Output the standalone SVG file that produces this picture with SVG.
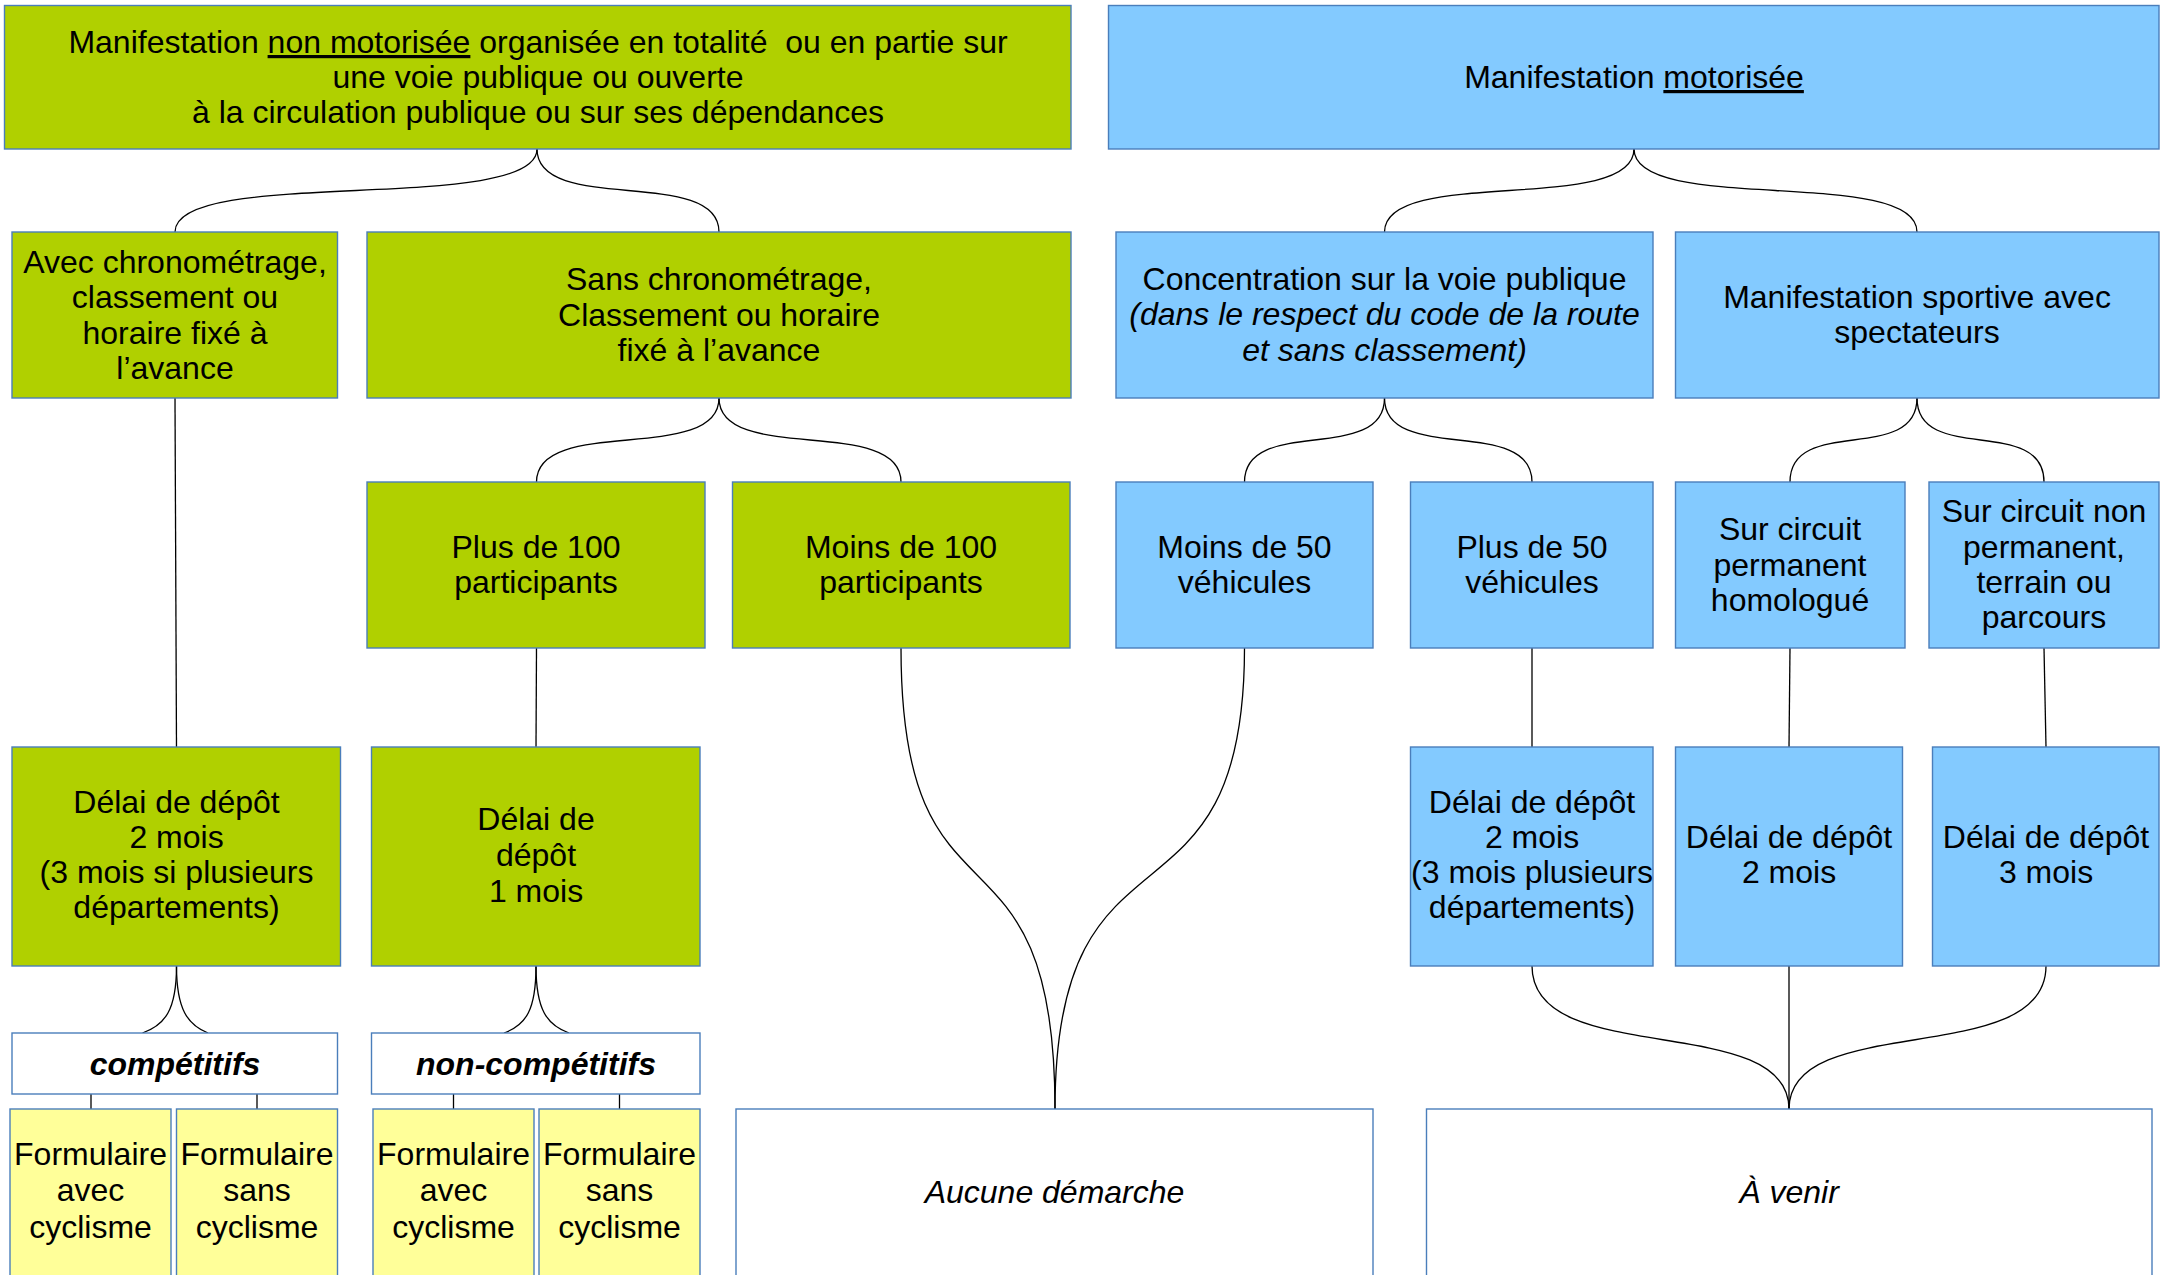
<svg xmlns="http://www.w3.org/2000/svg" width="2163" height="1275" viewBox="0 0 2163 1275">
<style>
rect{stroke:#4a7ebb;stroke-width:1.4}
.g{fill:#b0d000}
.b{fill:#83caff}
.y{fill:#ffff99}
.w{fill:#ffffff}
text{font-family:"Liberation Sans",Arial,sans-serif;font-size:32px;text-anchor:middle;fill:#000}
.i{font-style:italic}
.bi{font-style:italic;font-weight:bold}
#connectors path{fill:none;stroke:#000;stroke-width:1.3}
</style>
<g id="connectors">
<path d="M537,149 C537,215 175,166 175,232"/>
<path d="M537,149 C537,215 719,166 719,232"/>
<path d="M1634,149 C1634,215 1384.5,166 1384.5,232"/>
<path d="M1634,149 C1634,215 1917,166 1917,232"/>
<path d="M719,398 C719,465 536.5,415 536.5,482"/>
<path d="M719,398 C719,465 901,415 901,482"/>
<path d="M1384.5,398 C1384.5,465 1244.5,415 1244.5,482"/>
<path d="M1384.5,398 C1384.5,465 1532,415 1532,482"/>
<path d="M1917,398 C1917,465 1790,415 1790,482"/>
<path d="M1917,398 C1917,465 2044,415 2044,482"/>
<path d="M175,398 L176.5,747"/>
<path d="M536.5,648 L536,747"/>
<path d="M1532,648 L1532,747"/>
<path d="M1790,648 L1789,747"/>
<path d="M2044,648 L2046,747"/>
<path d="M901,648 C901,950 1055,800 1055,1109"/>
<path d="M1244.5,648 C1244.5,950 1055,800 1055,1109"/>
<path d="M1532,966 C1532,1070 1789,1010 1789,1109"/>
<path d="M1789,966 L1789,1109"/>
<path d="M2046,966 C2046,1070 1789,1010 1789,1109"/>
<path d="M176.5,966 C176.5,1010 165,1025 142.5,1033"/>
<path d="M176.5,966 C176.5,1010 188,1025 208,1033"/>
<path d="M536,966 C536,1010 526,1025 504,1033"/>
<path d="M536,966 C536,1010 547,1025 569,1033"/>
<path d="M91,1094 L91,1109"/>
<path d="M257,1094 L257,1109"/>
<path d="M453.5,1094 L453.5,1109"/>
<path d="M619.5,1094 L619.5,1109"/>
</g>
<g id="n-nonmotor">
<rect class="g" x="4.5" y="5.5" width="1066.5" height="143.5"/>
<text x="538" y="53" xml:space="preserve">Manifestation <tspan text-decoration="underline">non motorisée</tspan> organisée en totalité  ou en partie sur</text>
<text x="538" y="88">une voie publique ou ouverte</text>
<text x="538" y="123">à la circulation publique ou sur ses dépendances</text>
</g>
<g id="n-motor">
<rect class="b" x="1108.5" y="5.5" width="1050.5" height="143.5"/>
<text x="1634" y="88">Manifestation <tspan text-decoration="underline">motorisée</tspan></text>
</g>
<g id="n-avec">
<rect class="g" x="12" y="232" width="325.5" height="166"/>
<text x="175" y="273">Avec chronométrage,</text>
<text x="175" y="308">classement ou</text>
<text x="175" y="344">horaire fixé à</text>
<text x="175" y="379">l’avance</text>
</g>
<g id="n-sans">
<rect class="g" x="367" y="232" width="704" height="166"/>
<text x="719" y="290">Sans chronométrage,</text>
<text x="719" y="326">Classement ou horaire</text>
<text x="719" y="361">fixé à l’avance</text>
</g>
<g id="n-concentration">
<rect class="b" x="1116" y="232" width="537" height="166"/>
<text x="1384.5" y="290">Concentration sur la voie publique</text>
<text x="1384.5" y="325" class="i">(dans le respect du code de la route</text>
<text x="1384.5" y="361" class="i">et sans classement)</text>
</g>
<g id="n-sportive">
<rect class="b" x="1675.5" y="232" width="483.5" height="166"/>
<text x="1917" y="308">Manifestation sportive avec</text>
<text x="1917" y="343">spectateurs</text>
</g>
<g id="n-plus100">
<rect class="g" x="367" y="482" width="338" height="166"/>
<text x="536" y="558">Plus de 100</text>
<text x="536" y="593">participants</text>
</g>
<g id="n-moins100">
<rect class="g" x="732.5" y="482" width="337.5" height="166"/>
<text x="901" y="558">Moins de 100</text>
<text x="901" y="593">participants</text>
</g>
<g id="n-moins50">
<rect class="b" x="1116" y="482" width="257" height="166"/>
<text x="1244.5" y="558">Moins de 50</text>
<text x="1244.5" y="593">véhicules</text>
</g>
<g id="n-plus50">
<rect class="b" x="1410.5" y="482" width="242.5" height="166"/>
<text x="1532" y="558">Plus de 50</text>
<text x="1532" y="593">véhicules</text>
</g>
<g id="n-perm">
<rect class="b" x="1675.5" y="482" width="229.5" height="166"/>
<text x="1790" y="540">Sur circuit</text>
<text x="1790" y="576">permanent</text>
<text x="1790" y="611">homologué</text>
</g>
<g id="n-nonperm">
<rect class="b" x="1929" y="482" width="230" height="166"/>
<text x="2044" y="522">Sur circuit non</text>
<text x="2044" y="558">permanent,</text>
<text x="2044" y="593">terrain ou</text>
<text x="2044" y="628">parcours</text>
</g>
<g id="n-delai-g2">
<rect class="g" x="12" y="747" width="328.5" height="219"/>
<text x="176.5" y="813">Délai de dépôt</text>
<text x="176.5" y="848">2 mois</text>
<text x="176.5" y="883">(3 mois si plusieurs</text>
<text x="176.5" y="918">départements)</text>
</g>
<g id="n-delai-g1">
<rect class="g" x="371.5" y="747" width="328.5" height="219"/>
<text x="536" y="830">Délai de</text>
<text x="536" y="866">dépôt</text>
<text x="536" y="902">1 mois</text>
</g>
<g id="n-delai-b2p">
<rect class="b" x="1410.5" y="747" width="242.5" height="219"/>
<text x="1532" y="813">Délai de dépôt</text>
<text x="1532" y="848">2 mois</text>
<text x="1532" y="883">(3 mois plusieurs</text>
<text x="1532" y="918">départements)</text>
</g>
<g id="n-delai-b2">
<rect class="b" x="1675.5" y="747" width="227" height="219"/>
<text x="1789" y="848">Délai de dépôt</text>
<text x="1789" y="883">2 mois</text>
</g>
<g id="n-delai-b3">
<rect class="b" x="1932.5" y="747" width="226.5" height="219"/>
<text x="2046" y="848">Délai de dépôt</text>
<text x="2046" y="883">3 mois</text>
</g>
<g id="n-competitifs">
<rect class="w" x="12" y="1033" width="325.5" height="61"/>
<text x="175" y="1075" class="bi">compétitifs</text>
</g>
<g id="n-noncompetitifs">
<rect class="w" x="371.5" y="1033" width="328.5" height="61"/>
<text x="536" y="1075" class="bi">non-compétitifs</text>
</g>
<g id="n-f1">
<rect class="y" x="10" y="1109" width="161" height="190"/>
<text x="90.5" y="1165">Formulaire</text>
<text x="90.5" y="1201">avec</text>
<text x="90.5" y="1238">cyclisme</text>
</g>
<g id="n-f2">
<rect class="y" x="176.5" y="1109" width="161" height="190"/>
<text x="257" y="1165">Formulaire</text>
<text x="257" y="1201">sans</text>
<text x="257" y="1238">cyclisme</text>
</g>
<g id="n-f3">
<rect class="y" x="373" y="1109" width="161" height="190"/>
<text x="453.5" y="1165">Formulaire</text>
<text x="453.5" y="1201">avec</text>
<text x="453.5" y="1238">cyclisme</text>
</g>
<g id="n-f4">
<rect class="y" x="539" y="1109" width="161" height="190"/>
<text x="619.5" y="1165">Formulaire</text>
<text x="619.5" y="1201">sans</text>
<text x="619.5" y="1238">cyclisme</text>
</g>
<g id="n-aucune">
<rect class="w" x="736" y="1109" width="637" height="190"/>
<text x="1054.5" y="1203" class="i">Aucune démarche</text>
</g>
<g id="n-avenir">
<rect class="w" x="1426.5" y="1109" width="725.5" height="190"/>
<text x="1789" y="1203" class="i">À venir</text>
</g>
</svg>
